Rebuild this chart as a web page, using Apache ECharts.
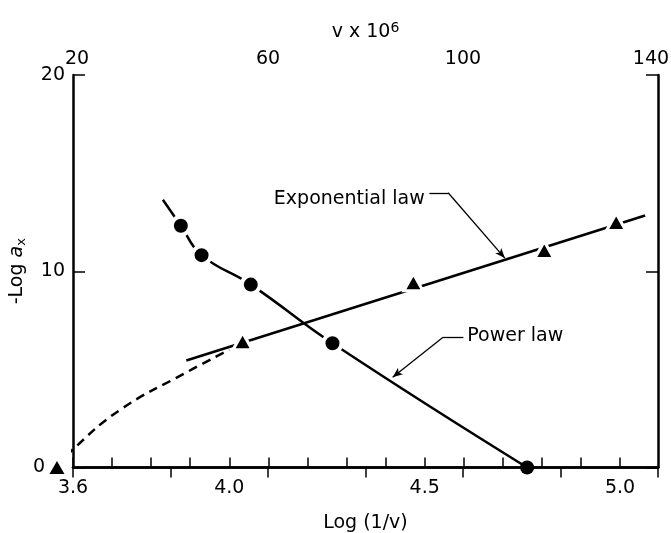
<!DOCTYPE html>
<html lang="en">
<head>
<meta charset="UTF-8">
<title>Log a_x vs Log(1/v)</title>
<script src="https://cdn.jsdelivr.net/npm/echarts@6/dist/echarts.min.js"></script>
<style>
  html, body { margin: 0; padding: 0; background: #fff; }
  #main { width: 671px; height: 533px; }
</style>
</head>
<body>
<div id="main"></div>
<script>
// measured points (x = Log(1/v), y = -Log a_x)
var circleX = [3.876, 3.929, 4.055, 4.264, 4.762];
var circleY = [12.32, 10.82, 9.32, 6.33, 0];
var triangleX = [3.559, 4.034, 4.471, 4.806, 4.990];
var triangleY = [0, 6.44, 9.44, 11.09, 12.52];

// drawn curves
var powerCurve = [[3.830, 13.64], [3.876, 12.32], [3.929, 10.82], [4.055, 9.32], [4.264, 6.33], [4.762, 0]];
var expoLine = [[3.890, 5.45], [5.064, 12.84]];
var expoDashed = [[3.559, 0], [3.598, 0.89], [3.720, 2.93], [3.886, 4.80], [4.000, 6.00]];

// tick labels
var bottomLabels = [3.6, 4.0, 4.5, 5.0];
var topLabels = [20, 60, 100, 140];

var font = 'DejaVu Sans';

function pts(xs, ys, axisSize) {
    return xs.map(function (x, i) {
        var item = { value: [x, ys[i]] };
        // points sitting on the axis get no white halo
        if (ys[i] === 0) {
            item.symbolSize = axisSize;
            item.itemStyle = { borderWidth: 0 };
        }
        return item;
    });
}

var myChart = echarts.init(document.getElementById('main'));

var option = {
    animation: false,
    textStyle: { fontFamily: font, color: '#000' },
    grid: { left: 73, right: 13, top: 75, bottom: 65.5, outerBoundsMode: 'none' },
    xAxis: [
        {
            type: 'value',
            position: 'bottom',
            min: 3.6,
            max: 5.097,
            interval: 0.1,
            name: 'Log (1/v)',
            nameLocation: 'middle',
            nameGap: 46,
            nameTextStyle: { fontSize: 19, color: '#000' },
            axisLine: { lineStyle: { color: '#000', width: 2.5 } },
            axisTick: { inside: true, length: 10, lineStyle: { color: '#000', width: 1.5 } },
            splitLine: { show: false },
            axisLabel: {
                fontSize: 19, color: '#000', margin: 11,
                showMaxLabel: false,
                formatter: function (v) {
                    var k = Math.round(v * 10) / 10;
                    return bottomLabels.indexOf(k) >= 0 && Math.abs(v - k) < 1e-6 ? k.toFixed(1) : '';
                }
            }
        },
        {
            type: 'value',
            position: 'top',
            min: 20,
            max: 140,
            interval: 20,
            name: 'v x 10{sup|6}',
            nameLocation: 'middle',
            nameGap: 31,
            nameTextStyle: {
                fontSize: 19, color: '#000',
                rich: { sup: { fontSize: 14, color: '#000', padding: [0, 0, 9, 0], fontFamily: font } }
            },
            axisLine: { lineStyle: { color: '#000', width: 2.5 } },
            axisTick: { inside: true, length: 10, lineStyle: { color: '#000', width: 1.5 } },
            splitLine: { show: false },
            axisLabel: {
                fontSize: 19, color: '#000', margin: 6,
                formatter: function (v) {
                    if (topLabels.indexOf(v) < 0) return '';
                    if (v === 20) return '{l|20}';
                    if (v === 140) return '{r|140}';
                    return String(v);
                },
                rich: {
                    l: { fontSize: 19, color: '#000', padding: [0, 0, 0, 8], fontFamily: font },
                    r: { fontSize: 19, color: '#000', padding: [0, 14, 0, 0], fontFamily: font }
                }
            }
        }
    ],
    yAxis: [
        {
            type: 'value',
            position: 'left',
            min: 0,
            max: 20,
            interval: 10,
            name: '-Log {i|a}{s|x}',
            nameLocation: 'middle',
            nameRotate: 90,
            nameGap: 45,
            nameMoveOverlap: false,
            nameTextStyle: {
                fontSize: 19, color: '#000',
                rich: {
                    i: { fontSize: 19, fontStyle: 'italic', color: '#000', fontFamily: font },
                    s: { fontSize: 13, color: '#000', padding: [9, 0, 0, 0], fontFamily: font }
                }
            },
            axisLine: { show: true, lineStyle: { color: '#000', width: 2.5 } },
            axisTick: { show: true, inside: true, length: 12, lineStyle: { color: '#000', width: 1.5 } },
            splitLine: { show: false },
            axisLabel: {
                fontSize: 19, color: '#000', margin: 8,
                formatter: function (v) { return v === 0 ? '{z|0}' : String(v); },
                rich: { z: { fontSize: 19, color: '#000', padding: [0, 20, 0, 0], fontFamily: font } }
            }
        },
        {
            type: 'value',
            position: 'right',
            min: 0,
            max: 20,
            interval: 10,
            axisLine: { show: true, lineStyle: { color: '#000', width: 2.5 } },
            axisTick: { show: true, inside: true, length: 12, lineStyle: { color: '#000', width: 1.5 } },
            splitLine: { show: false },
            axisLabel: { show: false }
        }
    ],
    series: [
        {
            name: 'Power law',
            type: 'line',
            smooth: 0.45,
            showSymbol: false,
            data: powerCurve,
            lineStyle: { color: '#000', width: 2.5 },
            markLine: {
                silent: true,
                animation: false,
                label: { show: false },
                lineStyle: { color: '#000', width: 1.3, type: 'solid' },
                data: [
                    [{ coord: [4.599, 6.64], symbol: 'none' }, { coord: [4.547, 6.64], symbol: 'none' }],
                    [{ coord: [4.547, 6.64], symbol: 'none' }, { coord: [4.418, 4.60], symbol: 'arrow', symbolSize: [6, 10] }]
                ]
            },
            markPoint: {
                silent: true,
                symbolSize: 0,
                data: [{ coord: [4.609, 6.71], value: 'Power law' }],
                label: { show: true, position: 'right', distance: 0, fontSize: 19, color: '#000', formatter: 'Power law' }
            }
        },
        {
            name: 'Exponential law',
            type: 'line',
            showSymbol: false,
            data: expoLine,
            lineStyle: { color: '#000', width: 2.5 },
            markLine: {
                silent: true,
                animation: false,
                label: { show: false },
                lineStyle: { color: '#000', width: 1.3, type: 'solid' },
                data: [
                    [{ coord: [4.512, 14.0], symbol: 'none' }, { coord: [4.560, 14.0], symbol: 'none' }],
                    [{ coord: [4.560, 14.0], symbol: 'none' }, { coord: [4.705, 10.67], symbol: 'arrow', symbolSize: [6, 10] }]
                ]
            },
            markPoint: {
                silent: true,
                symbolSize: 0,
                data: [{ coord: [4.500, 13.68], value: 'Exponential law' }],
                label: { show: true, position: 'left', distance: 0, fontSize: 19, color: '#000', formatter: 'Exponential law' }
            }
        },
        {
            name: 'Extrapolation',
            type: 'line',
            smooth: 0.45,
            clip: false,
            showSymbol: false,
            data: expoDashed,
            lineStyle: { color: '#000', width: 2.5, type: [9, 6] }
        },
        {
            name: 'Power points',
            type: 'scatter',
            symbol: 'circle',
            symbolSize: 18,
            clip: false,
            z: 5,
            data: pts(circleX, circleY, 14),
            itemStyle: { color: '#000', borderColor: '#fff', borderWidth: 4, opacity: 1 }
        },
        {
            name: 'Exponential points',
            type: 'scatter',
            symbol: 'triangle',
            symbolSize: [19, 17],
            clip: false,
            z: 5,
            data: pts(triangleX, triangleY, [15, 13]),
            itemStyle: { color: '#000', borderColor: '#fff', borderWidth: 3, opacity: 1 }
        }
    ]
};

myChart.setOption(option);
</script>
</body>
</html>
